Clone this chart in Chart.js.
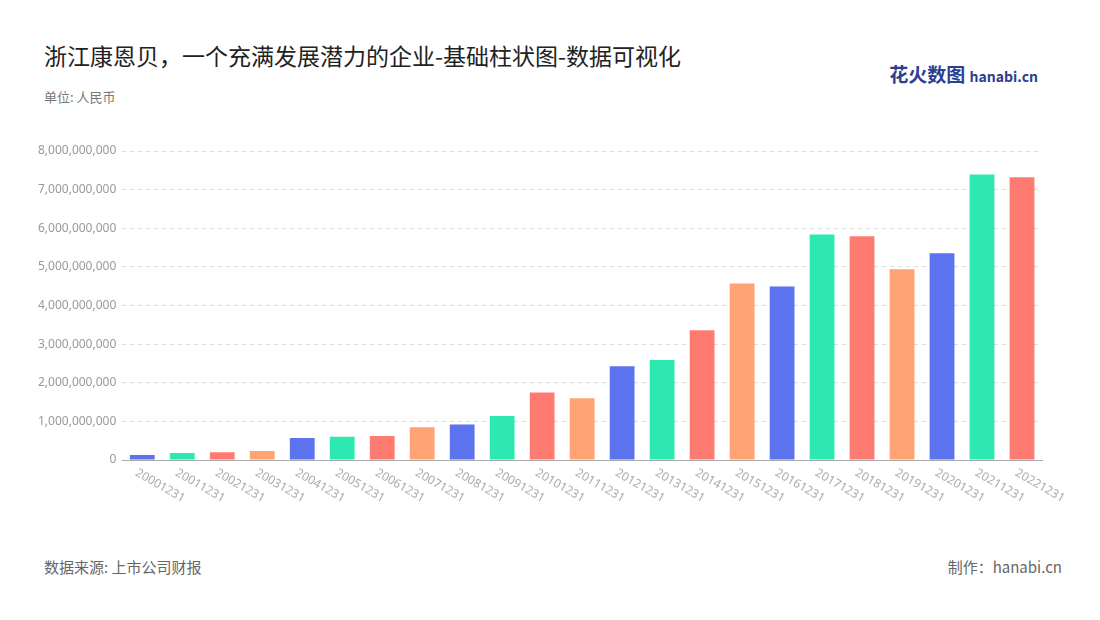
<!DOCTYPE html>
<html><head><meta charset="utf-8">
<script src="https://cdn.jsdelivr.net/npm/chart.js@4/dist/chart.umd.min.js"></script>
<style>
body{margin:0;background:#fff;font-family:"Noto Sans CJK SC","Noto Sans",sans-serif;}
#wrap{position:relative;width:1100px;height:620px;}
#title{position:absolute;left:44px;top:38px;font-size:23px;color:#222;}
#unit{position:absolute;left:44px;top:87px;font-size:13px;color:#777;}
#logo{position:absolute;right:62px;top:60px;font-size:19px;font-weight:bold;color:#2a3f8f;}
#logo span{font-size:14px;}
#src{position:absolute;left:44px;top:556px;font-size:15px;color:#666;}
#made{position:absolute;right:38px;top:556px;font-size:15px;color:#666;}
#c{position:absolute;left:0;top:0;}
</style></head><body>
<div id="wrap">
<div id="title">浙江康恩贝，一个充满发展潜力的企业-基础柱状图-数据可视化</div>
<div id="unit">单位: 人民币</div>
<div id="logo">花火数图 <span>hanabi.cn</span></div>
<div id="src">数据来源: 上市公司财报</div>
<div id="made">制作：hanabi.cn</div>
<canvas id="c" width="1100" height="620"></canvas>
</div>
<script>
const categories=["20001231","20011231","20021231","20031231","20041231","20051231","20061231","20071231","20081231","20091231","20101231","20111231","20121231","20131231","20141231","20151231","20161231","20171231","20181231","20191231","20201231","20211231","20221231"];
const values=[130e6,180e6,200e6,230e6,570e6,600e6,620e6,850e6,920e6,1140e6,1750e6,1600e6,2430e6,2590e6,3360e6,4570e6,4490e6,5840e6,5790e6,4940e6,5350e6,7390e6,7320e6];
const palette=["#5b73ee","#2de8b1","#ff7b72","#ffa372"];
const labelPlugin={id:'lbl',afterDraw(ch){
  const x=ch.scales.x,ctx=ch.ctx;ctx.save();
  ctx.font='12px "Noto Sans"';ctx.fillStyle='#aaa';ctx.textAlign='left';ctx.textBaseline='middle';
  categories.forEach((c,i)=>{const px=x.getPixelForTick(i);ctx.save();ctx.translate(px-6,x.top+12);ctx.rotate(Math.PI/6);ctx.fillText(c,0,0);ctx.restore();});
  ctx.restore();}};
new Chart(document.getElementById('c'),{type:'bar',
 data:{labels:categories,datasets:[{data:values,backgroundColor:categories.map((_,i)=>palette[i%4]),categoryPercentage:1,barPercentage:0.62}]},
 options:{responsive:false,animation:false,
  layout:{padding:{left:32,right:58,top:151,bottom:0}},
  plugins:{legend:{display:false},tooltip:{enabled:false}},
  scales:{
   x:{grid:{display:false},border:{color:'#aaa'},ticks:{display:false},afterFit(s){s.height=160;}},
   y:{min:0,max:8e9,ticks:{stepSize:1e9,color:'#999',padding:6,font:{size:12,family:'Noto Sans'},callback:v=>v.toLocaleString('en-US')},
      grid:{color:'#ddd',drawTicks:false},border:{display:false,dash:[4,4]}}}},
 plugins:[labelPlugin]});
</script>
</body></html>
